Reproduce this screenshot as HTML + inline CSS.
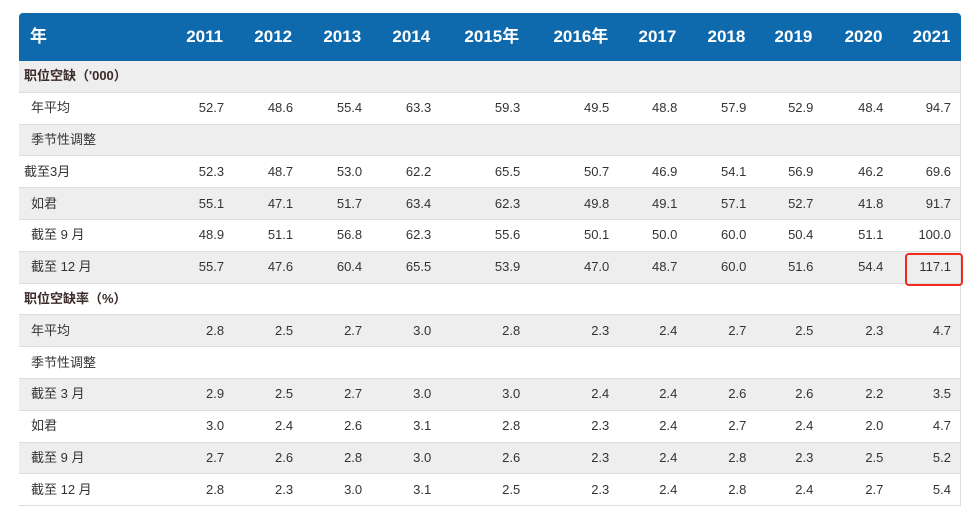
<!DOCTYPE html>
<html><head><meta charset="utf-8"><style>
body{margin:0;background:#fff;width:978px;height:508px;overflow:hidden;font-family:"Liberation Sans","Noto Sans CJK SC",sans-serif;}
table{position:absolute;left:19px;top:13px;border-collapse:collapse;table-layout:fixed;width:942px;}
th{background:#0e6aad;color:#fff;font-size:17px;font-weight:bold;height:48px;text-align:right;padding:0 10px 0 0;vertical-align:middle;line-height:20px;}
th span{display:inline-block;height:20px;line-height:20px;vertical-align:middle;}
th:first-child{text-align:left;padding-left:11px;border-radius:4px 0 0 0;}
th:last-child{border-radius:0 4px 0 0;}
td{height:30.8px;font-size:13px;color:#333;text-align:right;padding:0 9px 0 0;border-bottom:1px solid #ddd;line-height:16px;}
td:first-child{text-align:left;padding-left:12px;}
td.b{font-weight:bold;padding-left:5px;color:#3a2a2a;}
td.n{padding-left:5px;}
tr.g td{background:#eeeeee;}
tr td:last-child{border-right:1px solid #ddd;}
.box{position:absolute;left:905px;top:253px;width:54px;height:29px;border:2px solid #f02a1c;border-radius:4px;}
</style></head><body>
<table>
<colgroup><col style="width:145px"><col style="width:69px"><col style="width:69px"><col style="width:69px"><col style="width:69px"><col style="width:89px"><col style="width:89px"><col style="width:68px"><col style="width:69px"><col style="width:67px"><col style="width:70px"><col style="width:68px"></colgroup>
<tr><th><span>年</span></th><th><span>2011</span></th><th><span>2012</span></th><th><span>2013</span></th><th><span>2014</span></th><th><span>2015年</span></th><th><span>2016年</span></th><th><span>2017</span></th><th><span>2018</span></th><th><span>2019</span></th><th><span>2020</span></th><th><span>2021</span></th></tr>
<tr class="g"><td class="b">职位空缺（'000）</td><td></td><td></td><td></td><td></td><td></td><td></td><td></td><td></td><td></td><td></td><td></td></tr>
<tr><td>年平均</td><td>52.7</td><td>48.6</td><td>55.4</td><td>63.3</td><td>59.3</td><td>49.5</td><td>48.8</td><td>57.9</td><td>52.9</td><td>48.4</td><td>94.7</td></tr>
<tr class="g"><td>季节性调整</td><td></td><td></td><td></td><td></td><td></td><td></td><td></td><td></td><td></td><td></td><td></td></tr>
<tr><td class="n">截至3月</td><td>52.3</td><td>48.7</td><td>53.0</td><td>62.2</td><td>65.5</td><td>50.7</td><td>46.9</td><td>54.1</td><td>56.9</td><td>46.2</td><td>69.6</td></tr>
<tr class="g"><td>如君</td><td>55.1</td><td>47.1</td><td>51.7</td><td>63.4</td><td>62.3</td><td>49.8</td><td>49.1</td><td>57.1</td><td>52.7</td><td>41.8</td><td>91.7</td></tr>
<tr><td>截至 9 月</td><td>48.9</td><td>51.1</td><td>56.8</td><td>62.3</td><td>55.6</td><td>50.1</td><td>50.0</td><td>60.0</td><td>50.4</td><td>51.1</td><td>100.0</td></tr>
<tr class="g"><td>截至 12 月</td><td>55.7</td><td>47.6</td><td>60.4</td><td>65.5</td><td>53.9</td><td>47.0</td><td>48.7</td><td>60.0</td><td>51.6</td><td>54.4</td><td>117.1</td></tr>
<tr><td class="b">职位空缺率（%）</td><td></td><td></td><td></td><td></td><td></td><td></td><td></td><td></td><td></td><td></td><td></td></tr>
<tr class="g"><td>年平均</td><td>2.8</td><td>2.5</td><td>2.7</td><td>3.0</td><td>2.8</td><td>2.3</td><td>2.4</td><td>2.7</td><td>2.5</td><td>2.3</td><td>4.7</td></tr>
<tr><td>季节性调整</td><td></td><td></td><td></td><td></td><td></td><td></td><td></td><td></td><td></td><td></td><td></td></tr>
<tr class="g"><td>截至 3 月</td><td>2.9</td><td>2.5</td><td>2.7</td><td>3.0</td><td>3.0</td><td>2.4</td><td>2.4</td><td>2.6</td><td>2.6</td><td>2.2</td><td>3.5</td></tr>
<tr><td>如君</td><td>3.0</td><td>2.4</td><td>2.6</td><td>3.1</td><td>2.8</td><td>2.3</td><td>2.4</td><td>2.7</td><td>2.4</td><td>2.0</td><td>4.7</td></tr>
<tr class="g"><td>截至 9 月</td><td>2.7</td><td>2.6</td><td>2.8</td><td>3.0</td><td>2.6</td><td>2.3</td><td>2.4</td><td>2.8</td><td>2.3</td><td>2.5</td><td>5.2</td></tr>
<tr><td>截至 12 月</td><td>2.8</td><td>2.3</td><td>3.0</td><td>3.1</td><td>2.5</td><td>2.3</td><td>2.4</td><td>2.8</td><td>2.4</td><td>2.7</td><td>5.4</td></tr>
</table>
<div class="box"></div>
</body></html>
